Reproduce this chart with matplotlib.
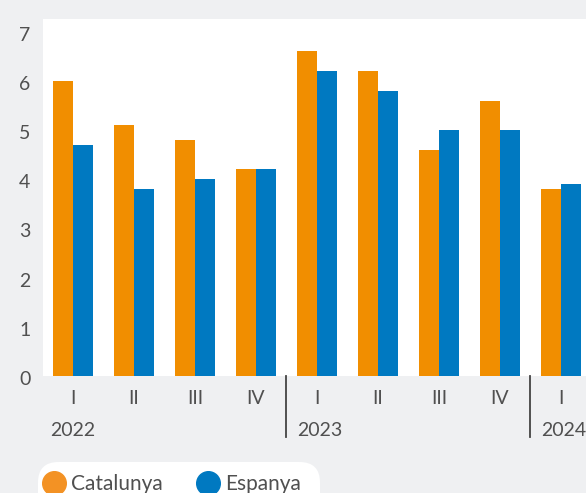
import numpy as np
import matplotlib
matplotlib.use("Agg")
import matplotlib.pyplot as plt
from matplotlib.patches import FancyBboxPatch
from matplotlib.lines import Line2D
import matplotlib.transforms as mtransforms

# Дані
quarters = ["I", "II", "III", "IV", "I", "II", "III", "IV", "I"]
years = ["2022", "2023", "2024"]
year_start = [0, 4, 8]          # індекс першого кварталу кожного року
catalunya = [6.0, 5.1, 4.8, 4.2, 6.6, 6.2, 4.6, 5.6, 3.8]
espanya = [4.7, 3.8, 4.0, 4.2, 6.2, 5.8, 5.0, 5.0, 3.9]

C_ORANGE = "#f18e00"
C_BLUE = "#0079c1"
BG = "#eff0f2"
TXT = "#505050"
FONT = "Lato"
FW = "normal"
FS = 14

W, H = 586, 493
fig = plt.figure(figsize=(W / 100, H / 100), dpi=100, facecolor=BG)
ax = fig.add_axes([43 / W, 1 - 376 / H, 1 - 43 / W, (376 - 19) / H])
ax.set_facecolor("white")

x = np.arange(len(quarters))
bw = 20 / 61
ax.bar(x - bw / 2, catalunya, width=bw, color=C_ORANGE)
ax.bar(x + bw / 2, espanya, width=bw, color=C_BLUE)

ax.set_xlim(-0.49, len(quarters) - 1 + 0.41)
ax.set_ylim(0, 7.26)
ax.set_yticks(range(0, 8))
ax.set_xticks([])
ax.tick_params(axis="y", length=0, pad=9, labelsize=FS, labelcolor=TXT)
shift = mtransforms.ScaledTranslation(0, -2 / 100, fig.dpi_scale_trans)
for lab in ax.get_yticklabels():
    lab.set_fontfamily(FONT)
    lab.set_fontweight(FW)
    lab.set_transform(lab.get_transform() + shift)
for s in ax.spines.values():
    s.set_visible(False)

# Підписи кварталів і років під віссю
trans = mtransforms.blended_transform_factory(ax.transData, fig.transFigure)
for xi, q in zip(x, quarters):
    ax.text(xi, 1 - 398 / H, q, transform=trans, ha="center", va="center",
            fontsize=FS, color=TXT, family=FONT, weight=FW)
for i, (y, s) in enumerate(zip(years, year_start)):
    off = 0.13 if i == 0 else 0.17
    ax.text(s - 0.5 + off, 1 - 430 / H, y, transform=trans, ha="left", va="center",
            fontsize=FS, color=TXT, family=FONT, weight=FW)
    if i > 0:
        fig.add_artist(Line2D([s - 0.5, s - 0.5], [1 - 376 / H, 1 - 437 / H],
                              transform=trans, color="#444444", lw=1.3))

# Легенда
fig.add_artist(FancyBboxPatch((38 / W, 1 - 520 / H), 282 / W, 58 / H,
                              boxstyle="round,pad=0,rounding_size=0.035",
                              transform=fig.transFigure, facecolor="white",
                              edgecolor="none", mutation_aspect=W / H))
for cx, col, lab in [(54, "#f39224", "Catalunya"), (208, C_BLUE, "Espanya")]:
    fig.add_artist(Line2D([cx / W], [1 - 483 / H], marker="o", markersize=17,
                          color=col, transform=fig.transFigure))
    fig.text((cx + 17) / W, 1 - 484 / H, lab, ha="left", va="center",
             fontsize=15, color=TXT, family=FONT, weight=FW)

fig.savefig("out.png", dpi=100, facecolor=BG)
